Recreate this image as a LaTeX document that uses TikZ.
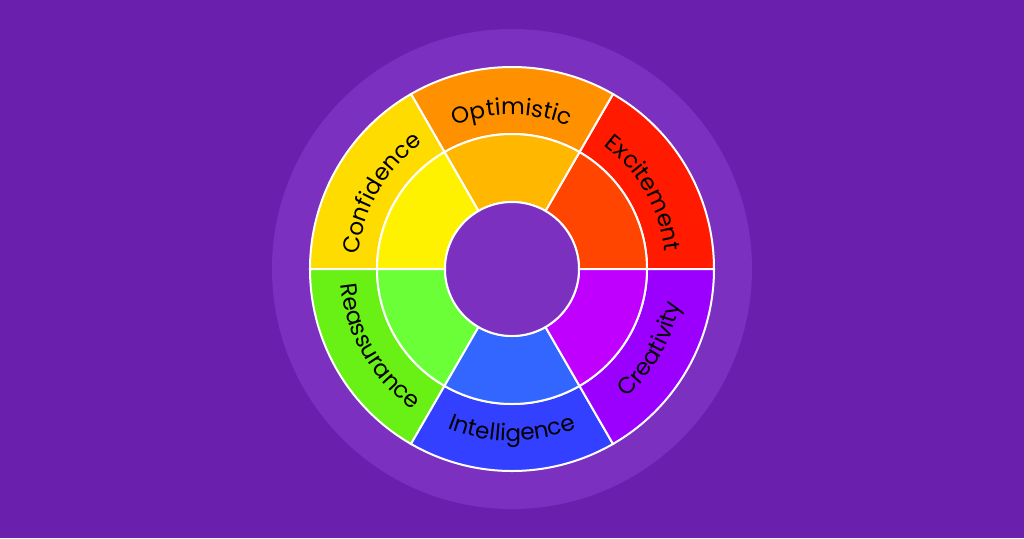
\documentclass[tikz,border=0pt]{standalone}
\usepackage{fontspec}
\setmainfont{Poppins}
\usetikzlibrary{decorations.text}
\definecolor{bgpurple}{HTML}{6A1FAD}
\definecolor{discpurple}{HTML}{7B30BF}
\definecolor{excouter}{HTML}{FF1A00}
\definecolor{excinner}{HTML}{FF4500}
\definecolor{optouter}{HTML}{FF9100}
\definecolor{optinner}{HTML}{FFB700}
\definecolor{conouter}{HTML}{FFDC00}
\definecolor{coninner}{HTML}{FFF200}
\definecolor{reaouter}{HTML}{69F014}
\definecolor{reainner}{HTML}{6BFF38}
\definecolor{intouter}{HTML}{3340FF}
\definecolor{intinner}{HTML}{3366FF}
\definecolor{creouter}{HTML}{9B00FF}
\definecolor{creinner}{HTML}{C000FF}
\tikzset{
  sector/.style={draw=white, line width=1pt},
  arclabel/.style={decorate, decoration={text along path, text align=center,
    text={|\fontsize{11.5}{14}\selectfont|#1}}}
}
\begin{document}
\begin{tikzpicture}[x=0.5pt, y=0.5pt]
\fill[bgpurple] (-512,-269) rectangle (512,269);
\useasboundingbox (-512,-269) rectangle (512,269);
\fill[discpurple] (0,0) circle[radius=240];
% outer ring
\filldraw[sector, fill=excouter] (0:135) -- (0:202) arc[start angle=0, end angle=60, radius=202] -- (60:135) arc[start angle=60, end angle=0, radius=135] -- cycle;
\filldraw[sector, fill=optouter] (60:135) -- (60:202) arc[start angle=60, end angle=120, radius=202] -- (120:135) arc[start angle=120, end angle=60, radius=135] -- cycle;
\filldraw[sector, fill=conouter] (120:135) -- (120:202) arc[start angle=120, end angle=180, radius=202] -- (180:135) arc[start angle=180, end angle=120, radius=135] -- cycle;
\filldraw[sector, fill=reaouter] (180:135) -- (180:202) arc[start angle=180, end angle=240, radius=202] -- (240:135) arc[start angle=240, end angle=180, radius=135] -- cycle;
\filldraw[sector, fill=intouter] (240:135) -- (240:202) arc[start angle=240, end angle=300, radius=202] -- (300:135) arc[start angle=300, end angle=240, radius=135] -- cycle;
\filldraw[sector, fill=creouter] (300:135) -- (300:202) arc[start angle=300, end angle=360, radius=202] -- (360:135) arc[start angle=360, end angle=300, radius=135] -- cycle;
% inner ring
\filldraw[sector, fill=excinner] (0:67) -- (0:135) arc[start angle=0, end angle=60, radius=135] -- (60:67) arc[start angle=60, end angle=0, radius=67] -- cycle;
\filldraw[sector, fill=optinner] (60:67) -- (60:135) arc[start angle=60, end angle=120, radius=135] -- (120:67) arc[start angle=120, end angle=60, radius=67] -- cycle;
\filldraw[sector, fill=coninner] (120:67) -- (120:135) arc[start angle=120, end angle=180, radius=135] -- (180:67) arc[start angle=180, end angle=120, radius=67] -- cycle;
\filldraw[sector, fill=reainner] (180:67) -- (180:135) arc[start angle=180, end angle=240, radius=135] -- (240:67) arc[start angle=240, end angle=180, radius=67] -- cycle;
\filldraw[sector, fill=intinner] (240:67) -- (240:135) arc[start angle=240, end angle=300, radius=135] -- (300:67) arc[start angle=300, end angle=240, radius=67] -- cycle;
\filldraw[sector, fill=creinner] (300:67) -- (300:135) arc[start angle=300, end angle=360, radius=135] -- (360:67) arc[start angle=360, end angle=300, radius=67] -- cycle;
% hole
\filldraw[sector, fill=discpurple] (0,0) circle[radius=67];
% labels
\path[arclabel=Optimistic] (120:154) arc[start angle=120, end angle=60, radius=154];
\path[arclabel=Confidence] (180:154) arc[start angle=180, end angle=120, radius=154];
\path[arclabel=Excitement] (60:154) arc[start angle=60, end angle=0, radius=154];
\path[arclabel=Reassurance] (180:172) arc[start angle=180, end angle=240, radius=172];
\path[arclabel=Intelligence] (240:172) arc[start angle=240, end angle=300, radius=172];
\path[arclabel=Creativity] (300:172) arc[start angle=300, end angle=360, radius=172];
\end{tikzpicture}
\end{document}
